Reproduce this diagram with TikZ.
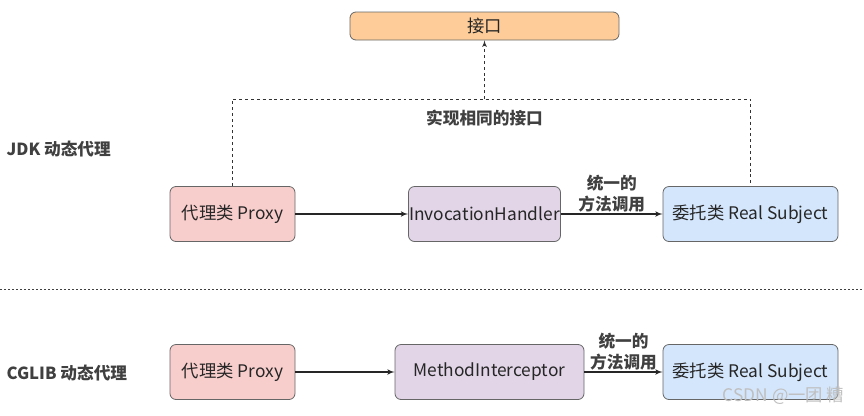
\documentclass[tikz,border=0pt]{standalone}
\usepackage{fontspec}
\setmainfont{Noto Sans CJK SC}
\usepackage{tikz}
\usetikzlibrary{shapes,arrows,positioning}
\definecolor{proxyred}{HTML}{F8CECC}
\definecolor{handlerpurple}{HTML}{E1D5E7}
\definecolor{subjectblue}{HTML}{D4E6FC}
\definecolor{ifaceorange}{HTML}{FDCC99}
\tikzstyle{line} = [draw, -latex', line width=0.9pt, color=black!85]
\tikzstyle{dashline} = [draw, line width=0.7pt, color=black!80, dash pattern=on 2.2pt off 2.2pt]
\tikzstyle{box} = [rectangle, draw=black!60, line width=0.6pt, rounded corners=4.5pt, minimum height=41.25pt, text centered, inner sep=0pt, font=\fontsize{13}{15}\selectfont, text=black!85]
\tikzstyle{proxy} = [box, fill=proxyred, minimum width=93.75pt]
\tikzstyle{handler} = [box, fill=handlerpurple]
\tikzstyle{subject} = [box, fill=subjectblue, minimum width=131.25pt]
\tikzstyle{iface} = [box, fill=ifaceorange, minimum width=201.75pt, minimum height=21pt]
\tikzstyle{label} = [font=\fontsize{12.5}{15.75}\selectfont\bfseries, text=black!75, inner sep=1pt]

\begin{document}
\begin{tikzpicture}[x=0.75pt, y=-0.75pt]
		\useasboundingbox (0,0) rectangle (864,415);
		
		\node [iface] (iface) at (484.5,26) {接口};
		
		% JDK
		\node [label, anchor=west] (jdk) at (5,149) {JDK 动态代理};
		\node [proxy] (proxy1) at (232.5,214) {代理类 Proxy};
		\node [handler, right of=proxy1, node distance=189pt, minimum width=114pt] (ih) {InvocationHandler};
		\node [subject, right of=ih, node distance=199.5pt] (rs1) {委托类 Real Subject};
		\path [line] (proxy1.east) to (ih.west);
		\path [line] (ih.east) to node [label, above, align=center] {统一的\\方法调用} (rs1.west);
		
		\coordinate (join) at (484.5,99);
		\path [dashline] (proxy1.north) |- (join) -| (rs1.north);
		\path [dashline, -latex'] (join) to (iface.south);
		\node [label, below of=join, node distance=14pt] (same) {实现相同的接口};
		
		% separator
		\coordinate (sepL) at (0,289);
		\coordinate (sepR) at (864,289);
		\draw [line width=0.7pt, color=black!75, dash pattern=on 1.5pt off 1.5pt] (sepL) to (sepR);
		
		% CGLIB
		\node [label, anchor=west] (cglib) at (5,373) {CGLIB 动态代理};
		\node [proxy] (proxy2) at (232.5,372) {代理类 Proxy};
		\node [handler, right of=proxy2, node distance=192.75pt, minimum width=141.75pt] (mi) {MethodInterceptor};
		\node [subject, right of=mi, node distance=195.75pt] (rs2) {委托类 Real Subject};
		\path [line] (proxy2.east) to (mi.west);
		\path [line] (mi.east) to node [label, above, align=center] {统一的\\方法调用} (rs2.west);
		
		\node [anchor=east, text=black!25, font=\fontsize{13}{15}\selectfont] (mark) at (849,396) {CSDN @一团 糟};
\end{tikzpicture}
\end{document}
